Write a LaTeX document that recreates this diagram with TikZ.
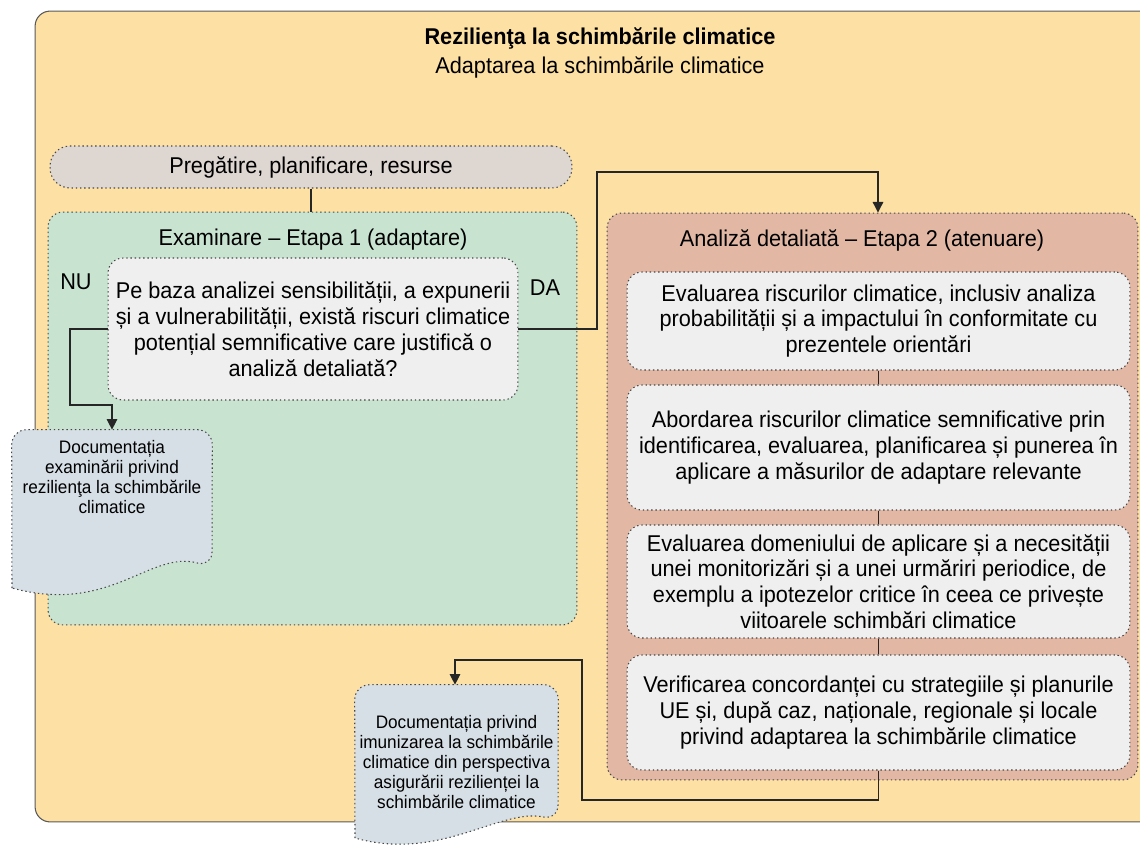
\documentclass[tikz,border=0pt]{standalone}
\usepackage{fontspec}
\setmainfont{Liberation Sans}[FakeStretch=0.95]
\usetikzlibrary{arrows.meta}
\definecolor{outerc}{RGB}{253,224,163}
\definecolor{prepc}{RGB}{221,214,209}
\definecolor{greenc}{RGB}{200,228,208}
\definecolor{pinkc}{RGB}{226,184,165}
\definecolor{innerc}{RGB}{240,239,239}
\definecolor{docc}{RGB}{214,223,230}
\definecolor{edgec}{RGB}{70,70,70}
\tikzset{
  dotedge/.style={draw=edgec, line width=0.6pt, dash pattern=on 0.8pt off 1.6pt},
  panel/.style={rectangle, rounded corners=0.3cm, dotedge, inner sep=0pt},
  inbox/.style={panel, fill=innerc, align=center, font=\fontsize{13}{14.7}\selectfont},
  lbl/.style={font=\fontsize{13}{14.7}\selectfont, inner sep=0pt},
  doctext/.style={inner sep=0pt, font=\fontsize{10.3}{11.3}\selectfont},
  docshape/.style={fill=docc, dotedge},
  conn/.style={draw=black!85, line width=0.7pt},
  arr/.style={conn, -{Triangle[width=6pt,length=6pt]}}
}
\begin{document}
\begin{tikzpicture}[x=0.02cm,y=-0.02cm]
\clip (0,0) rectangle (1140,848);
\useasboundingbox (0,0) rectangle (1140,848);

% outer
\node[rectangle, rounded corners=0.3cm, fill=outerc, draw=gray!70!black, line width=0.6pt,
      minimum width=22.4cm, minimum height=16.22cm, inner sep=0pt] (outer) at (595,416.5) {};
\node[lbl, font=\fontsize{13}{14.7}\selectfont\bfseries] (title) at (600,38) {Rezilienţa la schimbările climatice};
\node[lbl] (subtitle) at (600,67) {Adaptarea la schimbările climatice};

% preparation
\node[panel, fill=prepc, rounded corners=0.4cm, minimum width=10.44cm, minimum height=0.84cm, lbl] (prep) at (311,167) {Pregătire, planificare, resurse};

% green panel
\node[panel, fill=greenc, minimum width=10.58cm, minimum height=8.26cm] (green) at (312.5,418.5) {};
\node[lbl] (gtitle) at (313,240) {Examinare – Etapa 1 (adaptare)};
\node[inbox, minimum width=8.2cm, minimum height=2.84cm] (q) at (313,329)
 {Pe baza analizei sensibilității, a expunerii\\și a vulnerabilității, există riscuri climatice\\potențial semnificative care justifică o\\analiză detaliată?};
\node[lbl] (nu) at (76,282) {NU};
\node[lbl] (da) at (545,288) {DA};

% pink panel
\node[panel, fill=pinkc, minimum width=10.62cm, minimum height=11.34cm] (pink) at (872.5,496.5) {};
\node[lbl] (ptitle) at (862,240) {Analiză detaliată – Etapa 2 (atenuare)};
\node[inbox, minimum width=10.06cm, minimum height=1.96cm] (ba) at (878.5,321)
 {Evaluarea riscurilor climatice, inclusiv analiza\\probabilității și a impactului în conformitate cu\\prezentele orientări};
\node[inbox, minimum width=10.06cm, minimum height=2.5cm] (bb) at (878.5,447.5)
 {Abordarea riscurilor climatice semnificative prin\\identificarea, evaluarea, planificarea și punerea în\\aplicare a măsurilor de adaptare relevante};
\node[inbox, minimum width=10.06cm, minimum height=2.26cm] (bc) at (878.5,581.5)
 {Evaluarea domeniului de aplicare și a necesității\\unei monitorizări și a unei urmăriri periodice, de\\exemplu a ipotezelor critice în ceea ce privește\\viitoarele schimbări climatice};
\node[inbox, minimum width=10.06cm, minimum height=2.3cm] (bd) at (878.5,712.5)
 {Verificarea concordanței cu strategiile și planurile\\UE și, după caz, naționale, regionale și locale\\privind adaptarea la schimbările climatice};

% document 1
\node[doctext, minimum width=4cm, minimum height=2.7cm] (d1) at (112,497.5) {};
\filldraw[docshape, rounded corners=0.3cm] (12,588) -- (d1.north west) -- (d1.north east) -- (212,567)
  [sharp corners] .. controls (150,550) and (110,615) .. (12,588) -- cycle;
\node[doctext, align=center] (d1t) at (112,477) {Documentația\\examinării privind\\rezilienţa la schimbările\\climatice};

% document 2
\node[doctext, minimum width=4.06cm, minimum height=2.7cm] (d2) at (456.5,752.5) {};
\filldraw[docshape, rounded corners=0.3cm] (355,838) -- (d2.north west) -- (d2.north east) -- (558,820)
  [sharp corners] .. controls (500,808) and (440,862) .. (355,838) -- cycle;
\node[doctext, align=center] (d2t) at (456.5,762) {Documentația privind\\imunizarea la schimbările\\climatice din perspectiva\\asigurării rezilienței la\\schimbările climatice};

% connectors
\draw[conn] (prep.south) -- (prep.south |- green.north);
\coordinate (nu1) at (70,405);
\draw[arr] (q.west) -| (nu1) -| (d1.north);
\coordinate (da1) at (597,172);
\coordinate (da2) at (878,172);
\draw[arr] (q.east) -| (da1) -- (da2) -- (da2 |- pink.north);
\draw[conn] (ba.south) -- (bb.north);
\draw[conn] (bb.south) -- (bc.north);
\draw[conn] (bc.south) -- (bd.north);
\coordinate (r1) at (582,800);
\coordinate (r2) at (455,660);
\draw[arr] (bd.south) |- (r1) |- (r2) -- (r2 |- d2.north);
\end{tikzpicture}
\end{document}
